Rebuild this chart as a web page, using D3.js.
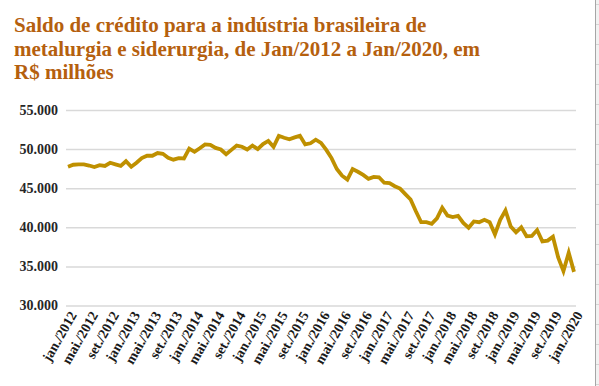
<!DOCTYPE html>
<html>
<head>
<meta charset="utf-8">
<script src="https://cdn.jsdelivr.net/npm/d3@7"></script>
<style>
  body { margin: 0; background: #fff; }
  svg { display: block; }
</style>
</head>
<body>
<script>
const width = 599
const height = 386

// saldo mensal, jan/2012 .. jan/2020 (R$ milhões)
const saldo = [
  47750, 48000, 48050, 48050, 47900, 47700, 47950, 47850, 48250, 48050, 47850, 48450,
  47750, 48250, 48850, 49150, 49150, 49500, 49400, 48900, 48650, 48850, 48800, 50050,
  49650, 50100, 50600, 50550, 50150, 49950, 49350, 49900, 50450, 50300, 49950, 50450,
  50000, 50650, 51050, 50300, 51700, 51450, 51250, 51500, 51700, 50600, 50750, 51200,
  50800, 49900, 48850, 47450, 46600, 46100, 47450, 47100, 46700, 46200, 46450, 46400,
  45700, 45650, 45250, 44950, 44250, 43550, 42050, 40650, 40650, 40450, 41150, 42500,
  41500, 41300, 41450, 40550, 39950, 40750, 40650, 40950, 40650, 39100, 40950, 42150,
  40100, 39350, 40000, 38850, 38900, 39650, 38200, 38300, 38800, 36150, 34400, 36750,
  34300
]
const meses = ['jan.', 'fev.', 'mar.', 'abr.', 'mai.', 'jun.', 'jul.', 'ago.', 'set.', 'out.', 'nov.', 'dez.']
const yTicks = [30000, 35000, 40000, 45000, 50000, 55000]
const titleLines = [
  'Saldo de crédito para a indústria brasileira de',
  'metalurgia e siderurgia, de Jan/2012 a Jan/2020, em',
  'R$ milhões'
]

const data = saldo.map((v, i) => ({
  label: meses[i % 12] + '/' + (2012 + Math.floor(i / 12)),
  i: i,
  value: v
}))

const svg = d3.select('body').append('svg')
  .attr('width', width)
  .attr('height', height)

// spreadsheet edge at the right
svg.append('rect')
  .attr('x', 595).attr('y', 0)
  .attr('width', 4).attr('height', height)
  .attr('fill', '#f2f2f2')
svg.append('line')
  .attr('x1', 595.5).attr('x2', 595.5)
  .attr('y1', 0).attr('y2', height)
  .attr('stroke', '#a6a6a6')
svg.selectAll('.cell')
  .data(d3.range(4, height, 20))
  .join('line')
  .attr('class', 'cell')
  .attr('x1', 596).attr('x2', 599)
  .attr('y1', d => d + 0.5).attr('y2', d => d + 0.5)
  .attr('stroke', '#d4d4d4')

svg.append('text')
  .attr('font-family', 'Liberation Serif, serif')
  .attr('font-weight', 'bold')
  .attr('font-size', 21)
  .attr('fill', '#b5600e')
  .selectAll('tspan')
  .data(titleLines)
  .join('tspan')
  .attr('x', 14)
  .attr('y', (d, i) => 32 + i * 23.5)
  .text(d => d)

const xScale = d3.scalePoint()
  .domain(data.map(d => d.i))
  .range([68, 574])

const yScale = d3.scaleLinear()
  .domain([30000, 55000])
  .range([305.5, 110])

const yAxis = d3.axisLeft(yScale)
  .tickValues(yTicks)
  .tickSize(-510)
  .tickPadding(8)
  .tickFormat(d => d3.format(',')(d).replace(/,/g, '.'))

svg.append('g')
  .attr('id', 'y-axis')
  .attr('transform', 'translate(66,0)')
  .call(yAxis)
  .call(g => g.select('.domain').remove())
  .call(g => g.selectAll('.tick line').attr('stroke', '#d9d9d9').attr('stroke-width', 1.5))
  .call(g => g.selectAll('.tick text')
    .attr('font-family', 'Liberation Serif, serif')
    .attr('font-weight', 'bold')
    .attr('font-size', 14)
    .attr('fill', '#262626'))

const xAxis = d3.axisBottom(xScale)
  .tickValues(data.filter(d => d.i % 4 === 0).map(d => d.i))
  .tickSize(0)
  .tickFormat(i => data[i].label)

svg.append('g')
  .attr('id', 'x-axis')
  .attr('transform', 'translate(0,310)')
  .call(xAxis)
  .call(g => g.select('.domain').remove())
  .call(g => g.selectAll('.tick text')
    .attr('font-family', 'Liberation Serif, serif')
    .attr('font-weight', 'bold')
    .attr('font-size', 14)
    .attr('fill', '#1a1a1a')
    .attr('text-anchor', 'end')
    .attr('dx', 0)
    .attr('dy', '0.35em')
    .attr('transform', 'translate(2,1) rotate(-60)'))

const line = d3.line()
  .x(d => xScale(d.i))
  .y(d => yScale(d.value))

svg.append('path')
  .datum(data)
  .attr('fill', 'none')
  .attr('stroke', '#bf9000')
  .attr('stroke-width', 3.8)
  .attr('stroke-linejoin', 'miter')
  .attr('d', line)
</script>
</body>
</html>
